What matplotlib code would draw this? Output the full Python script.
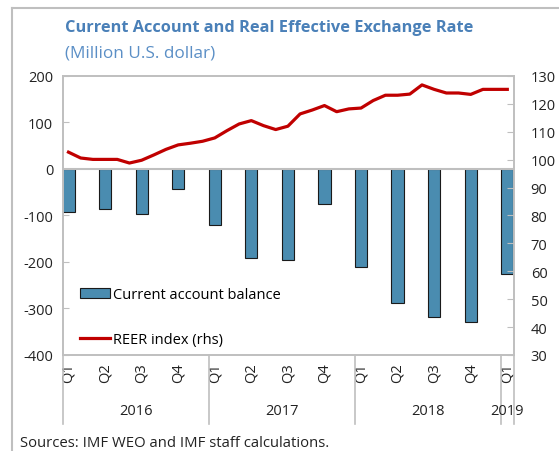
import matplotlib
matplotlib.use("Agg")
import matplotlib.pyplot as plt
import matplotlib.transforms as mtransforms
from matplotlib.lines import Line2D
from matplotlib.patches import Patch

plt.rcParams['font.family'] = ['Open Sans', 'DejaVu Sans']
plt.rcParams['axes.unicode_minus'] = False

# quarterly current account balance, 2016Q1 - 2019Q1 (million US$)
quarters = ['Q1', 'Q2', 'Q3', 'Q4'] * 3 + ['Q1']
ca_balance = [-93, -85, -97, -43, -120, -191, -195, -75,
              -211, -289, -319, -329, -226]
# monthly REER index, Jan 2016 - Jan 2019
reer = [102.7, 100.6, 100.1, 100.1, 100.1, 98.8, 99.8, 101.7, 103.7, 105.3,
        105.9, 106.6, 107.8, 110.4, 112.8, 114.0, 112.2, 110.8, 112.0, 116.4,
        117.8, 119.4, 117.2, 118.2, 118.5, 121.2, 123.1, 123.1, 123.5, 126.8,
        125.2, 123.9, 123.9, 123.4, 125.2, 125.2, 125.2]
years = ['2016', '2017', '2018', '2019']

months = list(range(len(reer)))
q_pos = [3 * i for i in range(len(ca_balance))]

grey = '#BFBFBF'
bar_col = '#4A8CB0'
red = '#C00000'

fig = plt.figure(figsize=(5.59, 4.52), dpi=100)
ax = fig.add_axes([0.1127, 0.2124, 0.8068, 0.6173])
ax2 = ax.twinx()

ax.bar(q_pos, ca_balance, width=1.0, color=bar_col, edgecolor='#1a1a1a',
       linewidth=0.8, zorder=2)
ax.axhline(0, color=grey, lw=1.5, zorder=3)
ax2.plot(months, reer, color=red, lw=2.3, zorder=4)

ax.set_xlim(-0.45, 36.55)
ax.set_ylim(-400, 200)
ax.set_yticks(range(-400, 201, 100))
ax2.set_ylim(30, 130)
ax2.set_yticks(range(30, 131, 10))

ax.set_xticks(q_pos)
ax.set_xticklabels(quarters, rotation=90)
ax.tick_params(axis='x', length=0, pad=5, labelsize=10.5, colors='#222222')
ax.tick_params(axis='y', direction='in', length=4, color=grey, pad=7,
               labelsize=10.5, labelcolor='#222222')
ax2.tick_params(axis='y', direction='in', length=5, color=grey, pad=12,
                labelsize=10.5, labelcolor='#222222')

for a in (ax, ax2):
    for s in a.spines.values():
        s.set_color(grey)
        s.set_linewidth(1.2)

# year separators and labels under the axis
trans = mtransforms.blended_transform_factory(ax.transData, ax.transAxes)
for xs in [-0.45, 11.5, 23.5, 35.5, 36.55]:
    ax.plot([xs, xs], [0, -0.247], color=grey, lw=1.2, transform=trans,
            clip_on=False)
for xp, yr in zip([5.5, 17.5, 29.5, 36.0], years):
    ax.text(xp, -0.2, yr, transform=trans, ha='center', va='center',
            fontsize=10.5, color='#222222')

handles = [Patch(facecolor=bar_col, edgecolor='#1a1a1a', linewidth=0.8),
           Line2D([], [], color=red, lw=2.3)]
ax2.legend(handles, ['Current account balance', 'REER index (rhs)'],
           loc='lower left', bbox_to_anchor=(0.038, 0.029), frameon=False,
           fontsize=10.5, labelspacing=2.05, handlelength=2.05,
           handletextpad=0.2, borderpad=0, borderaxespad=0)

fig.text(0.116, 0.929, 'Current Account and Real Effective Exchange Rate',
         fontsize=11.8, fontweight='bold', color='#4A80B8', va='baseline')
fig.text(0.116, 0.872, '(Million U.S. dollar)', fontsize=12.3,
         color='#5B8FC6', va='baseline')
fig.text(0.036, 0.011, 'Sources: IMF WEO and IMF staff calculations.',
         fontsize=10.75, color='#222222', va='baseline')

# outer frame of the chart
fig.add_artist(Line2D([0.0206, 1.0], [0.979, 0.979], color=grey, lw=1.5,
                      transform=fig.transFigure))
fig.add_artist(Line2D([0.0206, 0.0206], [0.0, 0.979], color=grey, lw=1.5,
                      transform=fig.transFigure))

fig.savefig('out.png', dpi=100)
